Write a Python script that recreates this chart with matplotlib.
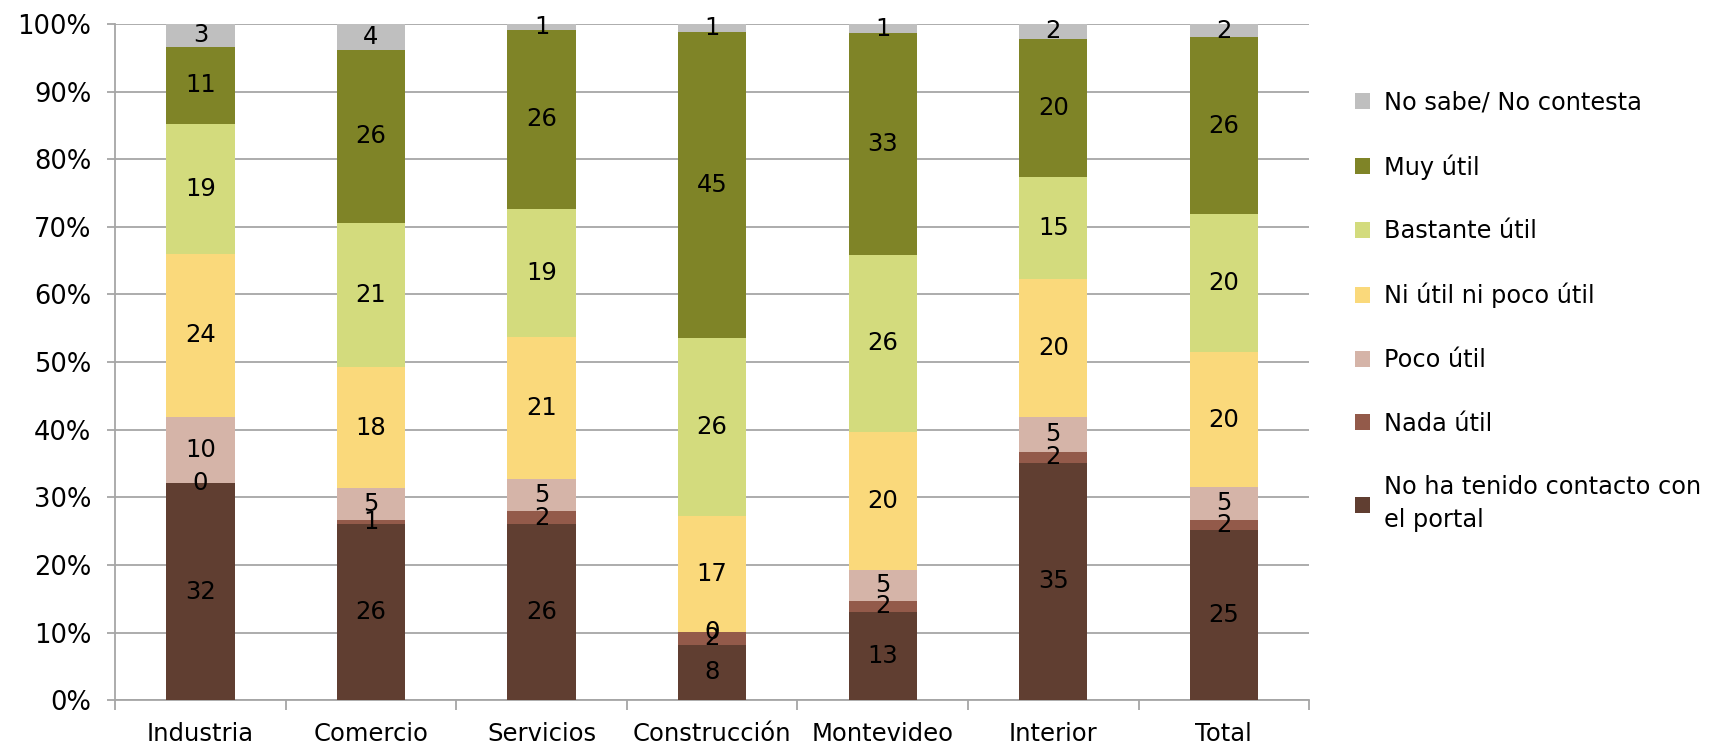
import matplotlib
matplotlib.use("Agg")
import matplotlib.pyplot as plt
import numpy as np
from matplotlib.ticker import FuncFormatter, FixedLocator

categories = ["Industria", "Comercio", "Servicios", "Construcción", "Montevideo", "Interior", "Total"]

no_contacto = [32.1, 26.1, 26.1, 8.2, 13.1, 35.1, 25.1]
nada_util   = [0.0, 0.6, 1.8, 1.9, 1.6, 1.6, 1.6]
poco_util   = [9.8, 4.6, 4.8, 0.0, 4.6, 5.2, 4.8]
ni_util     = [24.1, 18.0, 21.0, 17.1, 20.4, 20.4, 20.0]
bastante    = [19.2, 21.3, 19.0, 26.3, 26.1, 15.1, 20.4]
muy_util    = [11.4, 25.6, 26.4, 45.3, 32.8, 20.4, 26.1]
no_sabe     = [3.4, 3.8, 0.9, 1.2, 1.4, 2.2, 2.0]

series_names = ["No ha tenido contacto con\nel portal", "Nada útil", "Poco útil",
                "Ni útil ni poco útil", "Bastante útil", "Muy útil", "No sabe/ No contesta"]
series_vals = [no_contacto, nada_util, poco_util, ni_util, bastante, muy_util, no_sabe]
colors = ["#603E31", "#935A4A", "#D5B4A8", "#FAD97B", "#D3DB7D", "#7F8427", "#BFBFBF"]

plt.rcParams['font.family'] = ['DejaVu Sans']
fig = plt.figure(figsize=(17.18, 7.48), dpi=100)
ax = fig.add_axes([0.067, 0.064, 0.695, 0.904])

x = np.arange(len(categories))
data = np.array(series_vals, dtype=float)
totals = data.sum(axis=0)
pct = data / totals * 100

bottom = np.zeros(len(categories))
handles = []
for name, vals, raw, col in zip(series_names, pct, data, colors):
    bars = ax.bar(x, vals, 0.4, bottom=bottom, color=col, label=name, zorder=3)
    handles.append(bars)
    for xi, b, v, r in zip(x, bottom, vals, raw):
        ax.text(xi, b + v / 2, f"{int(np.floor(r + 0.5))}", ha="center", va="center",
                fontsize=17.5, color="black", zorder=4)
    bottom = bottom + vals

ax.set_xlim(-0.5, len(categories) - 0.5)
ax.set_ylim(0, 100)
ax.set_yticks(np.arange(0, 101, 10))
ax.yaxis.set_major_formatter(FuncFormatter(lambda v, p: f"{int(v)}%"))
ax.grid(axis="y", color="#A6A6A6", linewidth=1.3, zorder=0)
ax.set_xticks(x)
ax.set_xticklabels(categories)
ax.xaxis.set_minor_locator(FixedLocator(np.arange(-0.5, len(categories), 1.0)))
ax.tick_params(axis="x", which="major", length=0, labelsize=17.5, pad=16)
ax.tick_params(axis="x", which="minor", length=7, color="#A6A6A6", width=1.3)
ax.tick_params(axis="y", length=6, color="#A6A6A6", width=1.3, labelsize=18.5, pad=11)
for s in ["top", "right"]:
    ax.spines[s].set_visible(False)
for s in ["left", "bottom"]:
    ax.spines[s].set_color("#A6A6A6")
    ax.spines[s].set_linewidth(1.3)

leg = fig.legend(handles[::-1], series_names[::-1], loc="upper left",
                 bbox_to_anchor=(0.783, 0.892), frameon=False, fontsize=17.3,
                 handlelength=0.65, handleheight=0.65, handletextpad=0.55,
                 labelspacing=1.65, borderaxespad=0)
for t in leg.get_texts():
    t.set_linespacing(1.45)

fig.savefig("out.png", dpi=100)
